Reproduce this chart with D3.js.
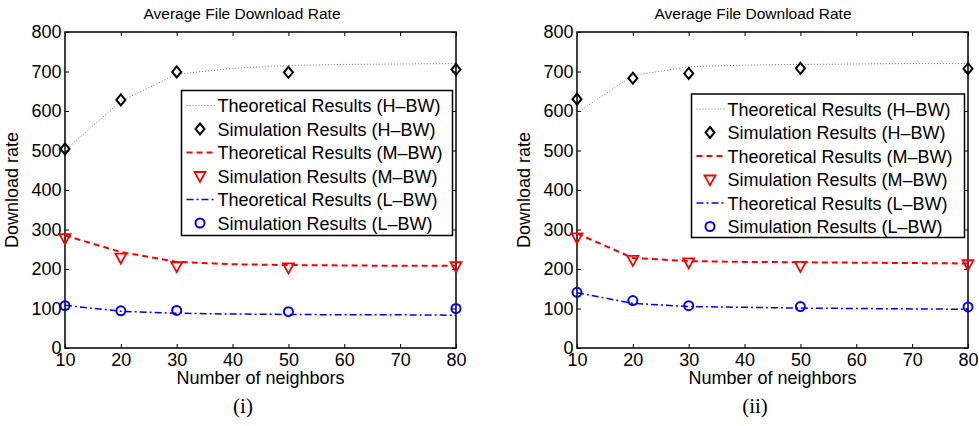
<!DOCTYPE html>
<html>
<head>
<meta charset="utf-8">
<script src="https://cdn.jsdelivr.net/npm/d3@7"></script>
<style>
  body { margin: 0; background: #fff; }
  svg { display: block; font-family: "Liberation Sans", Arial, sans-serif; }
  .tick line { stroke: #000; stroke-width: 1; }
  .tick text { font-size: 18px; fill: #000; }
</style>
</head>
<body>
<svg id="chart" width="979" height="426"></svg>
<script>
// neighbours on the x axis
var simX = [10, 20, 30, 50, 80];
var theoX = [10, 20, 30, 40, 50, 60, 70, 80];
var xTicks = [10, 20, 30, 40, 50, 60, 70, 80];
var yTicks = [0, 100, 200, 300, 400, 500, 600, 700, 800];

// panel (i)
var theoH1 = [500, 625, 693, 708, 715, 718, 719, 720];
var simH1 = [504, 628, 699, 698, 705];
var theoM1 = [285, 243, 218, 212, 210, 209, 208, 208];
var simM1 = [278, 229, 207, 204, 207];
var theoL1 = [108, 93, 88, 86, 85, 84, 84, 83];
var simL1 = [107, 94, 95, 92, 100];

// panel (ii)
var theoH2 = [595, 690, 712, 716, 718, 719, 720, 720];
var simH2 = [630, 683, 695, 708, 707];
var theoM2 = [290, 228, 220, 218, 217, 216, 215, 214];
var simM2 = [280, 223, 217, 208, 212];
var theoL2 = [140, 113, 105, 103, 101, 100, 99, 98];
var simL2 = [141, 120, 107, 105, 104];

var legendLabels = [
  'Theoretical Results (H\u2013BW)', 'Simulation Results (H\u2013BW)',
  'Theoretical Results (M\u2013BW)', 'Simulation Results (M\u2013BW)',
  'Theoretical Results (L\u2013BW)', 'Simulation Results (L\u2013BW)'
];

var svg = d3.select('#chart');

var styles = {
  H: { color: '#000', line: '#777', width: 1, dash: '1,2', marker: 'diamond' },
  M: { color: '#f00', line: '#f00', width: 2, dash: '6,4', marker: 'tri' },
  L: { color: '#00f', line: '#00f', width: 1.5, dash: '7,3,2,3', marker: 'circle' }
};

function drawMarker(g, kind, color, cx, cy) {
  if (kind === 'diamond') {
    g.append('path')
      .attr('d', 'M' + cx + ',' + (cy - 5.5) + 'L' + (cx + 4.5) + ',' + cy + 'L' + cx + ',' + (cy + 5.5) + 'L' + (cx - 4.5) + ',' + cy + 'Z')
      .attr('fill', 'none').attr('stroke', color).attr('stroke-width', 2);
  } else if (kind === 'tri') {
    g.append('path')
      .attr('d', 'M' + (cx - 5.5) + ',' + (cy - 4) + 'L' + (cx + 5.5) + ',' + (cy - 4) + 'L' + cx + ',' + (cy + 6) + 'Z')
      .attr('fill', 'none').attr('stroke', color).attr('stroke-width', 1.8);
  } else {
    g.append('circle').attr('cx', cx).attr('cy', cy).attr('r', 4.5)
      .attr('fill', 'none').attr('stroke', color).attr('stroke-width', 2);
  }
}

function panel(p) {
  var x = d3.scaleLinear().domain([10, 80]).range([p.left, p.right]);
  var y = d3.scaleLinear().domain([0, 800]).range([348, 32]);
  var g = svg.append('g');

  g.append('text').attr('x', p.titleX).attr('y', 19)
    .attr('text-anchor', 'middle').style('font-size', '15.5px')
    .text('Average File Download Rate');

  // axes, ticks pointing inward on all sides
  g.append('g').attr('transform', 'translate(' + p.left + ',0)')
    .call(d3.axisLeft(y).tickValues(yTicks).tickSize(-4).tickPadding(3.5))
    .call(function(a) { a.select('.domain').remove(); });
  g.append('g').attr('transform', 'translate(' + p.right + ',0)')
    .call(d3.axisRight(y).tickValues(yTicks).tickSize(-4).tickFormat(''))
    .call(function(a) { a.select('.domain').remove(); });
  g.append('g').attr('transform', 'translate(0,348)')
    .call(d3.axisBottom(x).tickValues(xTicks).tickSize(-4).tickPadding(5))
    .call(function(a) { a.select('.domain').remove(); });
  g.append('g').attr('transform', 'translate(0,32)')
    .call(d3.axisTop(x).tickValues(xTicks).tickSize(-4).tickFormat(''))
    .call(function(a) { a.select('.domain').remove(); });

  g.append('rect').attr('x', p.left).attr('y', 32)
    .attr('width', p.right - p.left).attr('height', 316)
    .attr('fill', 'none').attr('stroke', '#000').attr('stroke-width', 1.5);

  g.append('text')
    .attr('transform', 'translate(' + (p.left - 47) + ',190) rotate(-90)')
    .attr('text-anchor', 'middle').style('font-size', '18px')
    .text('Download rate');
  g.append('text').attr('x', (p.left + p.right) / 2).attr('y', 384)
    .attr('text-anchor', 'middle').style('font-size', '18px')
    .text('Number of neighbors');
  g.append('text').attr('x', p.captionX).attr('y', 413)
    .attr('text-anchor', 'middle')
    .style('font-family', '"Liberation Serif", "Times New Roman", serif')
    .style('font-size', '21px')
    .text(p.caption);

  var line = d3.line()
    .x(function(d, i) { return x(theoX[i]); })
    .y(function(d) { return y(d); });

  ['H', 'M', 'L'].forEach(function(k) {
    var s = styles[k];
    g.append('path').datum(p.theo[k])
      .attr('d', line).attr('fill', 'none')
      .attr('stroke', s.line).attr('stroke-width', s.width)
      .attr('stroke-dasharray', s.dash);
    p.sim[k].forEach(function(v, i) {
      drawMarker(g, s.marker, s.color, x(simX[i]), y(v));
    });
  });

  // legend
  var lg = g.append('g');
  lg.append('rect').attr('x', p.lx).attr('y', p.ly)
    .attr('width', p.lw).attr('height', p.lh)
    .attr('fill', '#fff').attr('stroke', '#000').attr('stroke-width', 1.5);
  legendLabels.forEach(function(label, i) {
    var k = ['H', 'M', 'L'][Math.floor(i / 2)];
    var s = styles[k];
    var cy = p.ly + 15 + i * 23.5;
    if (i % 2 === 0) {
      lg.append('line').attr('x1', p.lx + 5).attr('x2', p.lx + 33)
        .attr('y1', cy).attr('y2', cy)
        .attr('stroke', s.line).attr('stroke-width', s.width)
        .attr('stroke-dasharray', s.dash);
    } else {
      drawMarker(lg, s.marker, s.color, p.lx + 18.5, cy);
    }
    lg.append('text').attr('x', p.lx + 36).attr('y', cy + 6.5)
      .style('font-size', '18px').text(label);
  });
}

panel({
  left: 65, right: 456, titleX: 242, captionX: 243, caption: '(i)',
  lx: 181.5, ly: 90.5, lw: 271, lh: 145,
  theo: { H: theoH1, M: theoM1, L: theoL1 },
  sim: { H: simH1, M: simM1, L: simL1 }
});
panel({
  left: 577, right: 968, titleX: 753, captionX: 755, caption: '(ii)',
  lx: 691.5, ly: 94, lw: 273, lh: 143.5,
  theo: { H: theoH2, M: theoM2, L: theoL2 },
  sim: { H: simH2, M: simM2, L: simL2 }
});
</script>
</body>
</html>
